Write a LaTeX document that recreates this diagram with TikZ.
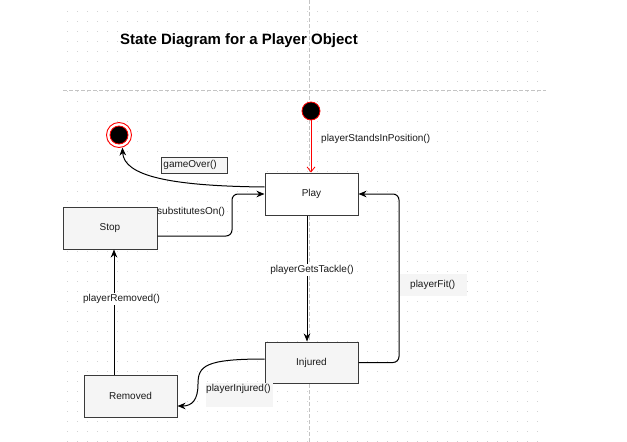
\documentclass[tikz,border=0pt]{standalone}
\usepackage{fontspec}
\setmainfont{Liberation Sans}
\usetikzlibrary{arrows.meta,calc}
\definecolor{gridc}{HTML}{D4D4D4}
\definecolor{pagec}{HTML}{C4C4C4}
\definecolor{boxfill}{HTML}{F5F5F5}
\definecolor{boxline}{HTML}{3A3A3A}
\definecolor{txt}{HTML}{1A1A1A}
\definecolor{startred}{HTML}{FF0000}
\tikzset{
  statebox/.style={draw=boxline, line width=1pt, fill=boxfill, minimum width=93pt, minimum height=42pt, inner sep=0pt, font=\fontsize{10}{12}\selectfont, text=txt},
  lbl/.style={font=\fontsize{10}{12}\selectfont, text=txt, inner sep=0pt},
  conn/.style={draw=black, line width=1pt, -{Stealth[length=8pt,width=6.5pt,inset=2.5pt]}},
  pageline/.style={draw=pagec, line width=0.8pt, dash pattern=on 4pt off 2pt},
}
\begin{document}
\begin{tikzpicture}[x=1pt,y=-1pt]
\useasboundingbox[fill=white] (0,0) rectangle (627,442);
% grid
\foreach \gx in {67,77,...,537}{
  \foreach \gy in {11,21,...,441}{
    \fill[gridc] (\gx-0.5,\gy-0.5) rectangle (\gx+0.5,\gy+0.5);
  }
}
% page break lines
\draw[pageline] (63,90) -- (546,90);
\draw[pageline] (309,0) -- (309,442);
% title
\node[font=\bfseries\fontsize{15}{18}\selectfont, anchor=west, inner sep=0pt] (title) at (120,41) {State Diagram for a Player Object};
% states
\node[statebox, fill=white] (play) at (311.5,194) {Play};
\node[statebox, minimum width=94pt] (stop) at (110,228) {Stop};
\node[statebox, minimum height=41pt] (injured) at (311.5,362.5) {Injured};
\node[statebox] (removed) at (130.5,396) {Removed};
% start and end
\node[circle, fill=black, draw=startred, line width=0.8pt, minimum size=18pt, inner sep=0pt] (start) at (311,111) {};
\node[circle, draw=startred, fill=white, line width=0.9pt, minimum size=25pt, inner sep=0pt] (end) at (119,135) {};
\node[circle, fill=black, draw=startred, line width=0.8pt, minimum size=18pt, inner sep=0pt] (endin) at (end.center) {};
% helper coordinates
\coordinate (rsx) at (114,0);
\coordinate (pix) at (307,0);
\coordinate (spx) at (232,0);
\coordinate (ipx) at (399,0);
% connectors
\draw[draw=startred, line width=0.8pt, -{Straight Barb[length=5pt,width=8pt]}] (start) -- (start |- play.north);
\draw[conn] ([yshift=7pt]play.west) .. controls (170,186) and (124,176) .. (end.-75);
\draw[conn, rounded corners=6pt] ([yshift=-8pt]stop.east) -| (spx |- play.west) -- (play.west);
\draw[conn] (pix |- play.south) -- (pix |- injured.north);
\draw[conn, rounded corners=6pt] (injured.east) -| (ipx |- play.east) -- (play.east);
\draw[conn] ([yshift=3.5pt]injured.west) .. controls (205,359) and (198,366) .. (198,384) .. controls (198,400) and (192,406) .. ([yshift=-10pt]removed.east);
\draw[conn] (removed.north -| rsx) -- (stop.south -| rsx);
% labels
\node[lbl, anchor=west] (lstand) at (321,139) {playerStandsInPosition()};
\node[lbl, anchor=west, draw=boxline, line width=0.9pt, fill=boxfill, minimum width=66pt, minimum height=16pt, inner xsep=2pt, text width=62pt, align=left] (lgame) at (161,165) {gameOver()};
\node[lbl, anchor=west] (lsub) at (157,212) {substitutesOn()};
\node[lbl, fill=white, inner sep=1.5pt] (ltackle) at (312,270) {playerGetsTackle()};
\node[lbl, anchor=west, fill=boxfill, minimum width=67pt, minimum height=22pt, inner xsep=10pt, text width=47pt, align=left] (lfit) at (400,285) {playerFit()};
\fill[boxfill] (206,383) rectangle (273,407);
\node[lbl, anchor=west] (linj) at (206,389) {playerInjured()};
\node[lbl, fill=white, inner sep=1.5pt] (lrem) at (121.5,299) {playerRemoved()};
\end{tikzpicture}
\end{document}
